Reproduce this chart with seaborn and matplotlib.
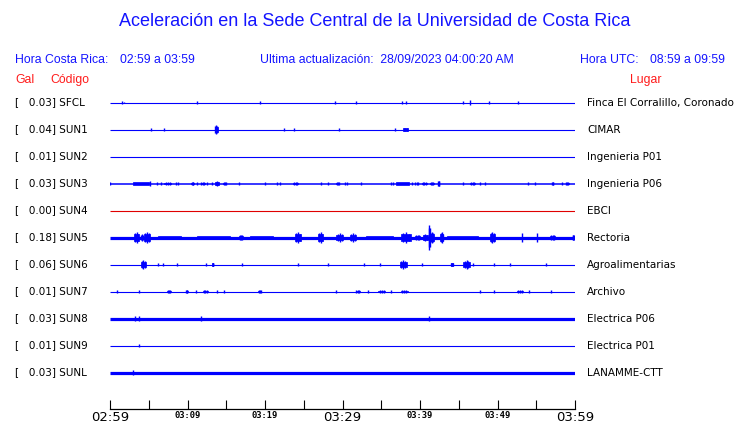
import numpy as np
import pandas as pd
import matplotlib
matplotlib.use("Agg")
import matplotlib.pyplot as plt
import seaborn as sns

# ---------------- data ----------------
codes = ["SFCL", "SUN1", "SUN2", "SUN3", "SUN4", "SUN5", "SUN6", "SUN7", "SUN8", "SUN9", "SUNL"]
gal = [0.03, 0.04, 0.01, 0.03, 0.00, 0.18, 0.06, 0.01, 0.03, 0.01, 0.03]
places = ["Finca El Corralillo, Coronado", "CIMAR", "Ingenieria P01", "Ingenieria P06", "EBCI",
          "Rectoria", "Agroalimentarias", "Archivo", "Electrica P06", "Electrica P01", "LANAMME-CTT"]
# minutes after 02:59
tick_minutes = [0, 5, 10, 15, 20, 25, 30, 35, 40, 45, 50, 55, 60]
tick_labels = ["02:59", "", "03:09", "", "03:19", "", "03:29", "", "03:39", "", "03:49", "", "03:59"]

# bursts per station: (start minute, end minute, half amplitude in row units)
ev_SFCL = [(1.6, 1.6, 0.05), (1.85, 1.85, 0.03), (11.15, 11.25, 0.05), (19.4, 19.4, 0.04), (29.0, 29.0, 0.05),
           (31.8, 31.8, 0.05), (37.7, 37.7, 0.05), (38.1, 38.2, 0.05), (45.6, 45.6, 0.05), (46.5, 46.5, 0.11),
           (48.9, 48.9, 0.04), (52.6, 52.6, 0.04)]
ev_SUN1 = [(5.3, 5.3, 0.04), (7.0, 7.0, 0.04), (13.5, 13.9, 0.15), (22.4, 22.5, 0.07), (23.8, 23.8, 0.07),
           (29.6, 29.6, 0.04), (36.8, 36.8, 0.07), (37.8, 38.4, 0.07)]
ev_SUN2 = []
ev_SUN3 = [(0.0, 0.1, 0.07), (3.0, 5.0, 0.06), (5.1, 5.1, 0.1), (6.0, 6.0, 0.05), (6.6, 6.6, 0.04),
           (7.0, 7.9, 0.06), (8.5, 8.5, 0.04), (8.8, 8.8, 0.04), (10.5, 10.8, 0.06), (11.2, 11.3, 0.06),
           (11.7, 12.2, 0.06), (12.5, 12.5, 0.04), (13.1, 13.2, 0.05), (13.5, 14.1, 0.09), (14.6, 15.0, 0.06),
           (16.6, 16.6, 0.05), (20.0, 20.1, 0.06), (21.6, 21.6, 0.05), (21.9, 21.9, 0.05), (23.6, 24.3, 0.06),
           (27.2, 27.3, 0.06), (28.1, 28.1, 0.05), (29.2, 29.6, 0.06), (30.3, 30.3, 0.05), (30.6, 30.6, 0.05),
           (32.4, 32.4, 0.04), (36.2, 36.2, 0.05), (36.5, 36.5, 0.05), (36.9, 38.6, 0.06), (39.0, 39.0, 0.05),
           (39.3, 39.3, 0.05), (39.6, 39.6, 0.05), (39.8, 39.8, 0.05), (40.2, 40.9, 0.06), (41.3, 41.8, 0.06),
           (42.3, 42.5, 0.1), (45.6, 45.6, 0.04), (46.5, 47.1, 0.06), (47.8, 47.8, 0.05), (48.4, 48.4, 0.05),
           (53.9, 53.9, 0.04), (54.8, 54.8, 0.05), (57.0, 57.2, 0.06), (58.3, 58.3, 0.04), (58.8, 59.2, 0.06)]
ev_SUN4 = []
ev_SUN5 = [(3.1, 3.8, 0.19), (4.0, 4.3, 0.12), (4.4, 5.2, 0.2), (6.2, 9.2, 0.07), (11.2, 15.5, 0.07),
           (16.7, 17.1, 0.11), (18.0, 21.0, 0.07), (23.9, 24.7, 0.19), (26.9, 27.5, 0.19), (29.2, 30.1, 0.15),
           (31.0, 31.8, 0.15), (33.0, 36.5, 0.065), (37.6, 38.9, 0.19), (39.4, 40.0, 0.11), (40.4, 41.0, 0.13),
           (41.1, 41.3, 0.46), (41.4, 41.8, 0.2), (42.6, 43.0, 0.19), (43.5, 47.5, 0.065), (49.0, 49.7, 0.2),
           (53.1, 53.1, 0.15), (55.1, 55.1, 0.15), (56.8, 57.4, 0.1), (59.7, 59.9, 0.1)]
ev_SUN6 = [(4.0, 4.6, 0.16), (6.15, 6.15, 0.04), (6.9, 6.9, 0.05), (8.6, 8.6, 0.05), (12.4, 12.4, 0.05),
           (13.2, 13.35, 0.07), (17.0, 17.0, 0.07), (24.2, 24.2, 0.04), (28.1, 28.1, 0.05), (32.7, 32.8, 0.07),
           (34.8, 34.8, 0.05), (37.4, 38.3, 0.15), (40.2, 40.2, 0.05), (44.0, 44.3, 0.07), (45.6, 46.4, 0.15),
           (46.9, 46.9, 0.05), (49.5, 49.5, 0.05), (51.6, 51.6, 0.04), (56.3, 56.3, 0.04)]
ev_SUN7 = [(0.86, 0.86, 0.04), (3.74, 3.74, 0.07), (7.3, 7.9, 0.05), (9.8, 10.0, 0.06), (11.1, 11.1, 0.04),
           (12.0, 12.6, 0.05), (13.8, 13.8, 0.05), (14.7, 14.7, 0.04), (19.1, 19.5, 0.06), (29.2, 29.2, 0.05),
           (31.7, 32.2, 0.05), (33.3, 33.3, 0.04), (34.6, 35.5, 0.05), (36.3, 36.3, 0.04), (37.5, 38.4, 0.05),
           (47.7, 47.8, 0.06), (49.6, 49.6, 0.04), (52.5, 53.3, 0.06), (54.0, 54.0, 0.06), (56.8, 56.9, 0.06)]
ev_SUN8 = [(3.2, 3.2, 0.11), (3.8, 3.8, 0.09), (11.8, 11.8, 0.11), (41.2, 41.2, 0.11)]
ev_SUN9 = [(3.8, 3.8, 0.05)]
ev_SUNL = [(3.0, 3.0, 0.11)]
events = [ev_SFCL, ev_SUN1, ev_SUN2, ev_SUN3, ev_SUN4, ev_SUN5, ev_SUN6, ev_SUN7, ev_SUN8, ev_SUN9, ev_SUNL]

# baseline thickness (points) and colour of each trace
trace_lw = [0.8, 0.8, 0.8, 1.1, 0.8, 2.3, 0.8, 0.8, 2.3, 0.8, 2.3]
trace_col = ["#0000ff"] * 4 + ["#e00000"] + ["#0000ff"] * 6

# ---------------- figure ----------------
sns.set_theme(style="white")
plt.rcParams["font.family"] = ["DejaVu Sans"]

W, H = 740, 423
fig = plt.figure(figsize=(W / 100, H / 100), dpi=100)
ax = fig.add_axes([110 / W, (H - 409 + 0.5) / H, 465 / W, (409 - 89.5) / H])
ax.set_facecolor("white")

# baselines via seaborn
rows = []
for i, c in enumerate(codes):
    rows.append({"code": c, "t": 0.0, "row": i})
    rows.append({"code": c, "t": 60.0, "row": i})
df = pd.DataFrame(rows)
for i, c in enumerate(codes):
    sns.lineplot(data=df[df.code == c], x="t", y="row", color=trace_col[i], lw=trace_lw[i],
                 ax=ax, legend=False, solid_capstyle="butt")

# bursts: a block with spikes inside it
for i, evs in enumerate(events):
    for (t0, t1, a) in evs:
        col = trace_col[i]
        if t1 - t0 < 0.12:
            ax.vlines((t0 + t1) / 2, i - a, i + a, color=col, lw=1.0)
        elif t1 - t0 > 1.5:
            ax.fill_between([t0, t1], [i - a, i - a], [i + a, i + a], color=col, lw=0.5, edgecolor=col)
        else:
            w = t1 - t0
            m = (t0 + t1) / 2
            ax.fill_between([t0, t1], [i - 0.6 * a] * 2, [i + 0.6 * a] * 2, color=col, lw=0.5, edgecolor=col)
            ax.vlines([t0 + 0.2 * w, m, t1 - 0.2 * w], [i - 0.8 * a, i - a, i - 0.75 * a],
                      [i + 0.8 * a, i + a, i + 0.75 * a], color=col, lw=1.0)

ax.set_xlim(0, 60)
ax.set_ylim(11.333, -0.5)
ax.set_xlabel("")
ax.set_ylabel("")
ax.set_yticks([])
for s in ["top", "left", "right"]:
    ax.spines[s].set_visible(False)
ax.spines["bottom"].set_color("black")
ax.spines["bottom"].set_linewidth(0.9)
ax.set_xticks(tick_minutes)
ax.set_xticklabels(tick_labels)
ax.tick_params(axis="x", bottom=True, direction="in", length=6.5, width=0.8, color="black", pad=1.5)
for t, lab in zip(ax.get_xticklabels(), tick_labels):
    if lab in ("02:59", "03:29", "03:59"):
        t.set_fontsize(9.5)
        t.set_family("DejaVu Sans")
    else:
        t.set_fontsize(6.3)
        t.set_family("DejaVu Sans Mono")
        t.set_fontweight("bold")
    t.set_color("black")

# station labels
for i in range(len(codes)):
    ax.annotate(f"[   {gal[i]:.2f}] {codes[i]}", xy=(15 / W, i), xycoords=("figure fraction", "data"),
                va="center", ha="left", fontsize=7.5, color="black", annotation_clip=False)
    ax.annotate(places[i], xy=(587 / W, i), xycoords=("figure fraction", "data"),
                va="center", ha="left", fontsize=7.5, color="black", annotation_clip=False)

blue = "#1414ff"
red = "#ff1a1a"
hf = "Liberation Sans"
fig.text(375 / W, 1 - 22 / H, "Aceleración en la Sede Central de la Universidad de Costa Rica",
         ha="center", va="center", fontsize=13, color=blue, family=hf)
fig.text(15 / W, 1 - 60 / H, "Hora Costa Rica:", ha="left", va="center", fontsize=8.8, color=blue, family=hf)
fig.text(120 / W, 1 - 60 / H, "02:59 a 03:59", ha="left", va="center", fontsize=8.8, color=blue, family=hf)
fig.text(260 / W, 1 - 60 / H, "Ultima actualización:  28/09/2023 04:00:20 AM", ha="left", va="center",
         fontsize=8.8, color=blue, family=hf)
fig.text(580 / W, 1 - 60 / H, "Hora UTC:", ha="left", va="center", fontsize=8.8, color=blue, family=hf)
fig.text(650 / W, 1 - 60 / H, "08:59 a 09:59", ha="left", va="center", fontsize=8.8, color=blue, family=hf)
fig.text(15 / W, 1 - 80 / H, "Gal", ha="left", va="center", fontsize=8.8, color=red, family=hf)
fig.text(50 / W, 1 - 80 / H, "Código", ha="left", va="center", fontsize=8.8, color=red, family=hf)
fig.text(630 / W, 1 - 80 / H, "Lugar", ha="left", va="center", fontsize=8.8, color=red, family=hf)

fig.savefig("out.png", dpi=100, facecolor="white")
